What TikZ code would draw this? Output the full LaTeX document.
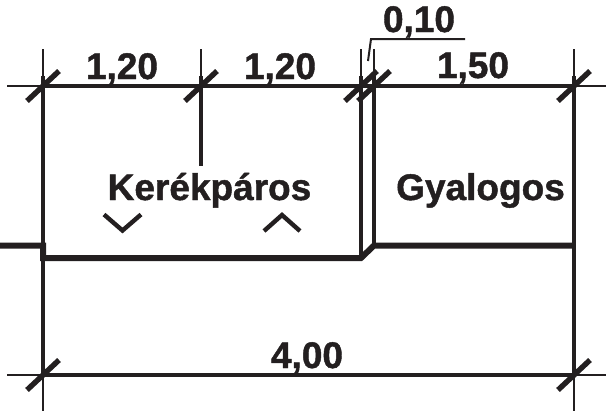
\documentclass[tikz,border=0pt]{standalone}
\usepackage{fontspec}
\setmainfont{Liberation Sans}[BoldFeatures={FakeBold=1.2}]
\definecolor{ink}{HTML}{231F20}
\tikzset{
  lab/.style={font=\fontsize{37}{40}\selectfont\bfseries,text=ink,inner sep=0pt,anchor=base},
  thin line/.style={draw=ink,line width=1.5pt},
  mid line/.style={draw=ink,line width=3.6pt},
  dim line/.style={draw=ink,line width=4pt},
  road/.style={draw=ink,line width=6pt},
  tick mark/.style={draw=ink,line width=5.4pt},
  chev/.style={draw=ink,line width=4.4pt}
}
\newcommand{\ticks}[2]{\draw[tick mark] (#1-16,#2+15) -- (#1+16,#2-15);}
\begin{document}
\begin{tikzpicture}[x=1pt,y=-1pt]
\useasboundingbox (0,0) rectangle (606,413);
% thin ends
\draw[thin line] (7,86) -- (43,86);
\draw[thin line] (574,86) -- (606,86);
\draw[thin line] (7,375) -- (43,375);
\draw[thin line] (574,375) -- (606,375);
\draw[thin line] (43,49) -- (43,86);
\draw[thin line] (201,49) -- (201,86);
\draw[thin line] (361,49) -- (361,86);
\draw[thin line] (374,49) -- (374,86);
\draw[thin line] (574,49) -- (574,86);
\draw[thin line] (43,375) -- (43,411);
\draw[thin line] (574,375) -- (574,411);
% extension lines
\draw[mid line] (43,76) -- (43,375);
\draw[mid line] (201,76) -- (201,166);
\draw[mid line] (361,76) -- (361,258);
\draw[mid line] (374,76) -- (374,245);
\draw[mid line] (574,76) -- (574,375);
% dimension lines
\draw[dim line] (43,86) -- (574,86);
\draw[dim line] (43,375) -- (574,375);
% road surface
\draw[road,line join=miter] (0,245.5) -- (43,245.5) -- (43,258) -- (361,258) -- (374,245.5) -- (574,245.5);
% ticks
\ticks{43}{86}\ticks{201}{86}\ticks{361}{86}\ticks{374}{86}\ticks{574}{86}\ticks{43}{375}\ticks{574}{375}
% leader
\draw[draw=ink,line width=2pt] (368,61) -- (371,39) -- (465,39);
% chevrons
\draw[chev] (104,214.5) -- (122.5,230.5) -- (141,214.5);
\draw[chev] (264,231) -- (282,215) -- (300,231);
% labels
\node[lab] (a) at (122,79) {1,20};
\node[lab] (b) at (280,79) {1,20};
\node[lab] (c) at (473,78) {1,50};
\node[lab] (d) at (419,32) {0,10};
\node[lab] (e) at (307,368) {4,00};
\node[lab] (f) at (209.5,200) {Kerékpáros};
\node[lab] (g) at (480.5,200) {Gyalogos};
\end{tikzpicture}
\end{document}
